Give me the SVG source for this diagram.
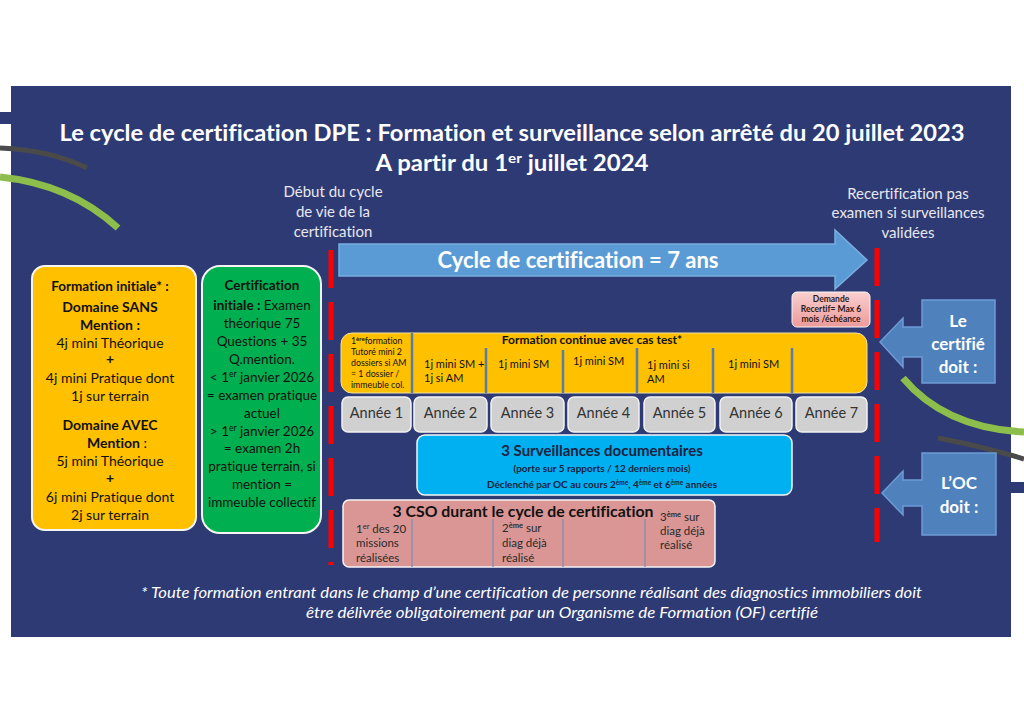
<svg xmlns="http://www.w3.org/2000/svg" width="1024" height="724" viewBox="0 0 1024 724">
<defs>
<style>
text{font-family:Lato,"Liberation Sans",sans-serif;font-variant-ligatures:none}
.w{fill:#ffffff}
.lt{fill:#E8E8EE;font-size:15px}
.b{font-weight:bold}
.k{fill:#111111}
.c{text-anchor:middle}
.yr{fill:#D0D0D0;stroke:#F2F2F2;stroke-width:1.5}
.yt{font-size:14.5px;fill:#333333;text-anchor:middle}
.sep{stroke:#5A7EA6;stroke-width:2.5}
.sep2{stroke:#8E8CB0;stroke-width:1.5}
.red{stroke:#FF0000;stroke-width:5;stroke-dasharray:38 14;fill:none}
.call{fill:#4F81BD;stroke:#6E9BD3;stroke-width:1.5}
.ct{font-size:17px;font-weight:bold;fill:#ffffff;text-anchor:middle}
</style>
<linearGradient id="pinkg" x1="0" y1="0" x2="0" y2="1">
<stop offset="0" stop-color="#F9CFCF"/>
<stop offset="1" stop-color="#EE9A9A"/>
</linearGradient>
</defs>
<rect x="0" y="0" width="1024" height="724" fill="#ffffff"/>
<rect x="0" y="112" width="12" height="12" fill="#2E3A74"/>
<rect x="1011" y="482" width="13" height="11" fill="#2E3A74"/>
<rect x="11" y="86" width="1000" height="551" fill="#2E3A74"/>

<g id="decor">
<path d="M0,148 Q50,150 87,168" stroke="#4A4A4A" stroke-width="5" fill="none"/>
<path d="M0,177 Q70,184 118,228" stroke="#8DBE4C" stroke-width="7" fill="none"/>
<path d="M903,378 Q945,428 1024,432" stroke="#8DBE4C" stroke-width="7" fill="none"/>
<path d="M938,438 Q985,447 1024,459" stroke="#4A4A4A" stroke-width="5" fill="none"/>
</g>

<g id="title">
<text x="512" y="141" class="w b c" font-size="22" textLength="905" lengthAdjust="spacingAndGlyphs">Le cycle de certification DPE : Formation et surveillance selon arrêté du 20 juillet 2023</text>
<text x="512" y="171" class="w b c" font-size="22" textLength="273" lengthAdjust="spacingAndGlyphs">A partir du 1<tspan font-size="14" baseline-shift="super">er</tspan> juillet 2024</text>
</g>

<g id="debut">
<text class="lt c" x="333" y="197">Début du cycle</text>
<text class="lt c" x="333" y="217">de vie de la</text>
<text class="lt c" x="333" y="237">certification</text>
</g>
<g id="recert">
<text class="lt c" x="908" y="199">Recertification pas</text>
<text class="lt c" x="908" y="218">examen si surveillances</text>
<text class="lt c" x="908" y="238">validées</text>
</g>

<g id="connectors">
<line class="red" x1="331" y1="250" x2="331" y2="565"/>
<line class="red" x1="877" y1="248" x2="877" y2="542"/>
</g>

<g id="cycle-arrow">
<polygon points="339,244 835,244 835,230 867,260 835,289 835,276 339,276" fill="#5B9BD5" stroke="#7AAEE0" stroke-width="1.5"/>
<text x="578" y="268" class="w b c" font-size="22">Cycle de certification = 7 ans</text>
</g>

<g id="formation-initiale">
<rect x="32" y="266" width="164" height="264" rx="13" fill="#FFC000" stroke="#F5F5F5" stroke-width="2"/>
<g class="k c" font-size="14">
<text x="110" y="291" class="b" font-size="13.5">Formation initiale* :</text>
<text x="110" y="312" class="b">Domaine SANS</text>
<text x="110" y="330" class="b">Mention :</text>
<text x="110" y="348">4j mini Théorique</text>
<text x="110" y="364" class="b">+</text>
<text x="110" y="383">4j mini Pratique dont</text>
<text x="110" y="401">1j sur terrain</text>
<text x="110" y="430" class="b">Domaine AVEC</text>
<text x="117" y="448"><tspan class="b">Mention</tspan> :</text>
<text x="110" y="466">5j mini Théorique</text>
<text x="110" y="483" class="b">+</text>
<text x="110" y="502">6j mini Pratique dont</text>
<text x="110" y="520">2j sur terrain</text>
</g>
</g>

<g id="certification-initiale">
<rect x="202" y="266" width="119" height="267" rx="18" fill="#00B050" stroke="#F5F5F5" stroke-width="2"/>
<g class="k c" font-size="13.5">
<text x="262" y="290" class="b">Certification</text>
<text x="262" y="310"><tspan class="b">initiale : </tspan> Examen</text>
<text x="262" y="328">théorique 75</text>
<text x="262" y="346">Questions + 35</text>
<text x="262" y="364">Q.mention.</text>
<text x="262" y="382">&lt; 1<tspan font-size="8.5" baseline-shift="super">er</tspan> janvier 2026</text>
<text x="262" y="400">= examen pratique</text>
<text x="262" y="418">actuel</text>
<text x="262" y="436">&gt; 1<tspan font-size="8.5" baseline-shift="super">er</tspan> janvier 2026</text>
<text x="262" y="453">= examen 2h</text>
<text x="262" y="471">pratique terrain, si</text>
<text x="262" y="489">mention =</text>
<text x="262" y="507">immeuble collectif</text>
</g>
</g>

<g id="demande">
<rect x="792" y="292" width="78" height="35" rx="5" fill="url(#pinkg)" stroke="#F5F5F5" stroke-width="1"/>
<g class="b c" font-size="8.5" fill="#2A1A1A">
<text x="831" y="302">Demande</text>
<text x="831" y="312">Recertif= Max 6</text>
<text x="831" y="322">mois /échéance</text>
</g>
</g>

<g id="formation-continue">
<rect x="341" y="333" width="526" height="60" rx="11" fill="#FFC000" stroke="#F2E2A0" stroke-width="1"/>
<text x="592" y="344" class="k b c" font-size="12">Formation continue avec cas test*</text>
<line class="sep" x1="412" y1="333" x2="412" y2="393"/>
<line class="sep" x1="486" y1="348" x2="486" y2="393"/>
<line class="sep" x1="563" y1="350" x2="563" y2="393"/>
<line class="sep" x1="637" y1="348" x2="637" y2="393"/>
<line class="sep" x1="713" y1="348" x2="713" y2="393"/>
<line class="sep" x1="792" y1="348" x2="792" y2="393"/>
<g class="k" font-size="8.8" fill="#2B2B2B">
<text x="351" y="344">1<tspan font-size="6" baseline-shift="super" font-weight="bold">ère</tspan>formation</text>
<text x="351" y="355">Tutoré mini 2</text>
<text x="351" y="366">dossiers si AM</text>
<text x="351" y="377">= 1 dossier /</text>
<text x="351" y="388">immeuble col.</text>
</g>
<g class="k" font-size="11">
<text x="424" y="368">1j mini SM +</text>
<text x="424" y="382">1j si AM</text>
<text x="498" y="368">1j mini SM</text>
<text x="573" y="365">1j mini SM</text>
<text x="647" y="369">1j mini si</text>
<text x="647" y="383">AM</text>
<text x="728" y="368">1j mini  SM</text>
</g>
</g>

<g id="annees">
<rect class="yr" x="342" y="397" width="69" height="35" rx="6"/>
<rect class="yr" x="414" y="397" width="73" height="35" rx="6"/>
<rect class="yr" x="491" y="397" width="73" height="35" rx="6"/>
<rect class="yr" x="568" y="397" width="71" height="35" rx="6"/>
<rect class="yr" x="644" y="397" width="71" height="35" rx="6"/>
<rect class="yr" x="720" y="397" width="72" height="35" rx="6"/>
<rect class="yr" x="796" y="397" width="71" height="35" rx="6"/>
<text class="yt" x="376.5" y="418">Année 1</text>
<text class="yt" x="450.5" y="418">Année 2</text>
<text class="yt" x="527.5" y="418">Année 3</text>
<text class="yt" x="603.5" y="418">Année 4</text>
<text class="yt" x="679.5" y="418">Année 5</text>
<text class="yt" x="756" y="418">Année 6</text>
<text class="yt" x="831.5" y="418">Année 7</text>
</g>

<g id="surveillances">
<rect x="417" y="435" width="375" height="60" rx="8" fill="#00B0F0" stroke="#F5F5F5" stroke-width="1.5"/>
<g class="b c" fill="#1A2240">
<text x="602" y="456" font-size="15">3 Surveillances documentaires</text>
<text x="602" y="472" font-size="10">(porte sur 5 rapports / 12 derniers mois)</text>
<text x="602" y="488" font-size="10">Déclenché par OC au cours 2<tspan font-size="6.5" baseline-shift="super">ème</tspan>, 4<tspan font-size="6.5" baseline-shift="super">ème</tspan> et 6<tspan font-size="6.5" baseline-shift="super">ème</tspan> années</text>
</g>
</g>

<g id="cso">
<rect x="343" y="500" width="372" height="67" rx="6" fill="#D99694" stroke="#F5F5F5" stroke-width="1.5"/>
<text x="523" y="517" class="k b c" font-size="15" textLength="261" lengthAdjust="spacingAndGlyphs">3 CSO durant le cycle de certification</text>
<line class="sep2" x1="412" y1="519" x2="412" y2="567"/>
<line class="sep2" x1="493" y1="519" x2="493" y2="567"/>
<line class="sep2" x1="563" y1="519" x2="563" y2="567"/>
<line class="sep2" x1="645" y1="519" x2="645" y2="567"/>
<g font-size="11.5" fill="#2A2A2A">
<text x="356" y="533">1<tspan font-size="7.5" baseline-shift="super">er</tspan> des 20</text>
<text x="356" y="547">missions</text>
<text x="356" y="562">réalisées</text>
<text x="502" y="532">2<tspan font-size="7.5" baseline-shift="super" font-weight="bold">ème</tspan> sur</text>
<text x="502" y="547">diag déjà</text>
<text x="502" y="562">réalisé</text>
<text x="660" y="521">3<tspan font-size="7.5" baseline-shift="super" font-weight="bold">ème</tspan> sur</text>
<text x="660" y="535">diag déjà</text>
<text x="660" y="549">réalisé</text>
</g>
</g>

<g id="le-certifie">
<polygon class="call" points="922,300 995,300 995,383 922,383 922,357 903,357 903,367 880,342 903,318 903,327 922,327"/>
<text class="ct" x="958" y="327">Le</text>
<text class="ct" x="958" y="350">certifié</text>
<text class="ct" x="958" y="373">doit :</text>
</g>

<g id="oc">
<polygon class="call" points="922,453 996,453 996,535 922,535 922,506 903,506 903,515 882,493 903,471 903,480 922,480"/>
<text class="ct" x="959" y="489">L’OC</text>
<text class="ct" x="959" y="513">doit :</text>
</g>

<g id="footer">
<text x="141" y="598" class="w" font-style="italic" font-size="14.5" textLength="781" lengthAdjust="spacingAndGlyphs">* Toute formation entrant dans le champ d’une certification de personne réalisant des diagnostics immobiliers doit</text>
<text x="306" y="618" class="w" font-style="italic" font-size="14.5" textLength="512" lengthAdjust="spacingAndGlyphs">être délivrée obligatoirement par un Organisme de Formation (OF) certifié</text>
</g>
</svg>
